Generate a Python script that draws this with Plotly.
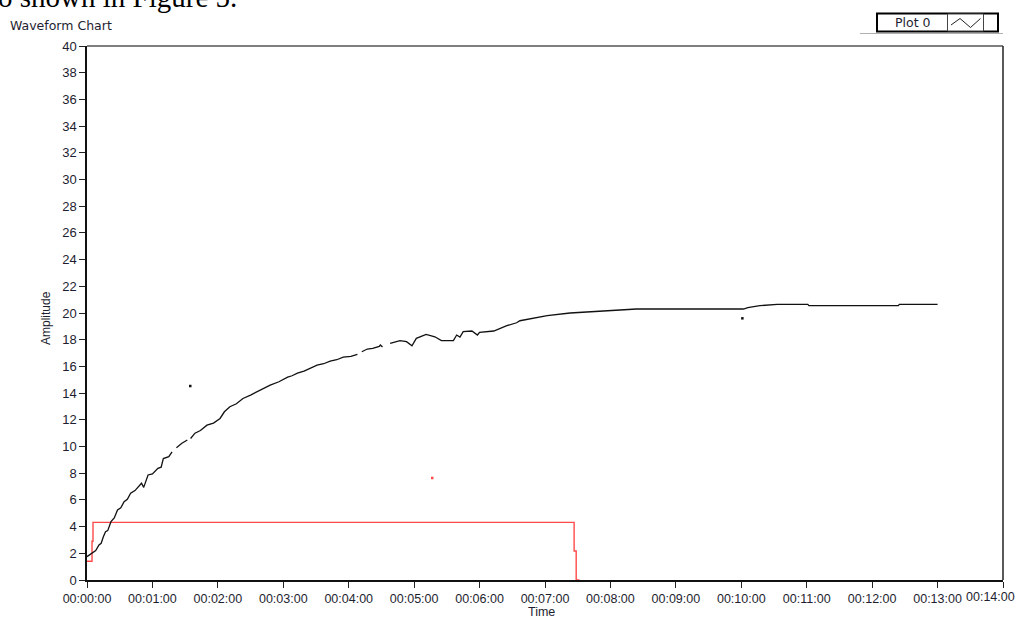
import plotly.graph_objects as go

# ---- data -------------------------------------------------------------
# Plot 0 (black trace): elapsed seconds and amplitude; None marks a dropout
plot0_seconds = [0, 4.6, 8, 11, 13, 15, 17, 19, 22, 25, 28, 31, 34, 37, 40, 44, 47, 50,
                 52, 56, 60, 65, 68, 70, 75, 78,
                 80, 82, 87, 92, 93.5, 95, 99, 104, 110, 116, 122, 126, 131, 137, 143,
                 150, 156, 162, 168, 176, 184, 188, 193, 199, 205, 211, 217, 223, 229,
                 235, 242, 248, 250, 252, 257, 262, 268, 269, 271,
                 274, 278, 287, 293, 298, 302, 311, 319, 325, 336, 339, 342, 345,
                 353, 358, 360, 373, 385, 394, 397, 412, 422, 443, 461, 480, 504,
                 602, 606, 617, 633, 661, 662, 744, 745, 780]
plot0_amplitude = [1.75, 2.05, 2.2, 2.62, 2.75, 3.24, 3.62, 3.7, 4.37, 4.65, 5.24, 5.4,
                   5.87, 6.05, 6.5, 6.7, 6.99, 7.25, 6.94, 7.87, 7.95, 8.37, 8.45, 9.1,
                   9.24, 9.6, None, 9.91, 10.24, 10.49, None, 10.6, 11.0, 11.2, 11.6,
                   11.75, 12.1, 12.6, 12.98, 13.2, 13.6, 13.85, 14.1, 14.3, 14.6, 14.85,
                   15.2, 15.3, 15.5, 15.65, 15.9, 16.1, 16.2, 16.4, 16.5, 16.7, 16.75,
                   16.9, None, 17.1, 17.3, 17.35, 17.5, 17.6, 17.45, None,
                   17.73, 17.93, 17.85, 17.55, 18.1, 18.4, 18.22, 17.93, 17.93, 18.35,
                   18.2, 18.6, 18.65, 18.35, 18.55, 18.65, 19.05, 19.27, 19.42, 19.65,
                   19.8, 20.0, 20.1, 20.2, 20.3, 20.3, 20.4, 20.55, 20.65, 20.65, 20.55,
                   20.55, 20.65, 20.65]

# isolated samples of Plot 0
plot0_single_seconds = [94.7, 601]
plot0_single_amplitude = [14.53, 19.6]

# Plot 1 (red trace)
plot1_seconds = [0, 4.6, 4.6, 5.5, 5.5, 446.7, 446.7, 448.6, 448.6, 451.6]
plot1_amplitude = [1.4, 1.4, 2.9, 2.9, 4.32, 4.32, 2.17, 2.17, 0, 0]

plot1_single_seconds = [316.6]
plot1_single_amplitude = [7.64]

# time axis ticks
time_tick_seconds = [0, 60, 120, 180, 240, 300, 360, 420, 480, 540, 600, 660, 720, 780, 840]
time_tick_labels = ["00:00:00", "00:01:00", "00:02:00", "00:03:00", "00:04:00",
                    "00:05:00", "00:06:00", "00:07:00", "00:08:00", "00:09:00",
                    "00:10:00", "00:11:00", "00:12:00", "00:13:00", "00:14:00"]

# ---- layout helpers ---------------------------------------------------
W, H = 1017, 619
L, R, T, B = 87, 1003, 46, 580          # plot area in pixels


def px(x):
    return (x - L) / (R - L)


def py(y):
    return (B - y) / (B - T)


TEXT = "#1e1e30"
Y_TICK_FONT = dict(family="Liberation Sans", size=13, color=TEXT)
X_TICK_FONT = dict(family="Liberation Sans", size=12.5, color=TEXT)

# the final time label sits against the right edge, so it is placed separately
axis_tick_text = time_tick_labels[:-1] + [""]

fig = go.Figure()

fig.add_trace(go.Scatter(x=plot1_seconds, y=plot1_amplitude, mode="lines",
                         line=dict(color="#ff4a4a", width=1.4), name="Plot 1"))
fig.add_trace(go.Scatter(x=plot1_single_seconds, y=plot1_single_amplitude, mode="markers",
                         marker=dict(color="#ff4a4a", size=2.5, symbol="square"),
                         name="Plot 1"))
fig.add_trace(go.Scatter(x=plot0_seconds, y=plot0_amplitude, mode="lines",
                         line=dict(color="#111111", width=1.3), name="Plot 0"))
fig.add_trace(go.Scatter(x=plot0_single_seconds, y=plot0_single_amplitude, mode="markers",
                         marker=dict(color="#111111", size=2.5, symbol="square"),
                         name="Plot 0"))

fig.update_layout(
    width=W, height=H, autosize=False,
    margin=dict(l=L, r=W - R, t=T, b=H - B, pad=0),
    paper_bgcolor="white", plot_bgcolor="white",
    showlegend=False,
    xaxis=dict(range=[0, 840], tickmode="array", tickvals=time_tick_seconds,
               ticktext=axis_tick_text, ticks="outside", ticklen=6, tickwidth=1,
               tickcolor="#222", showgrid=False, zeroline=False, showline=True,
               linecolor="#111", linewidth=1.5, tickfont=X_TICK_FONT),
    yaxis=dict(range=[0, 40], dtick=2, ticks="outside", ticklen=6, tickwidth=1,
               tickcolor="#222", showgrid=False, zeroline=False, showline=True,
               linecolor="#111", linewidth=1.5, tickfont=Y_TICK_FONT),
)

shapes = [
    # top and right frame
    dict(type="line", xref="paper", yref="paper", x0=0, x1=1, y0=1, y1=1,
         line=dict(color="#555", width=1.5)),
    dict(type="line", xref="paper", yref="paper", x0=1, x1=1, y0=0, y1=1,
         line=dict(color="#222", width=1.5)),
    # legend panel
    dict(type="line", xref="paper", yref="paper", x0=px(860), x1=px(1003),
         y0=py(33.5), y1=py(33.5), line=dict(color="#b0b0b0", width=1)),
    dict(type="rect", xref="paper", yref="paper", x0=px(877), x1=px(998),
         y0=py(31.5), y1=py(13.5), line=dict(color="black", width=2), fillcolor="white"),
    dict(type="rect", xref="paper", yref="paper", x0=px(947.5), x1=px(983.5),
         y0=py(31), y1=py(14), line=dict(color="#444", width=1), fillcolor="white"),
    dict(type="path", xref="paper", yref="paper",
         path=(f"M {px(951)},{py(25)} L {px(960)},{py(18.5)} L {px(970.5)},{py(27.5)} "
               f"L {px(980.5)},{py(18.5)}"),
         line=dict(color="#222", width=1)),
]
fig.update_layout(shapes=shapes)

annotations = [
    dict(text="o shown in Figure 5.", xref="paper", yref="paper", x=px(-4), y=py(15),
         xanchor="left", yanchor="bottom", showarrow=False,
         font=dict(family="Liberation Serif", size=29, color="black")),
    dict(text="Waveform Chart", xref="paper", yref="paper", x=px(8), y=py(25),
         xanchor="left", yanchor="middle", showarrow=False,
         font=dict(family="DejaVu Sans", size=12.5, color=TEXT)),
    dict(text="Plot 0", xref="paper", yref="paper", x=px(913), y=py(22.5),
         xanchor="center", yanchor="middle", showarrow=False,
         font=dict(family="DejaVu Sans", size=12.5, color=TEXT)),
    dict(text="Amplitude", xref="paper", yref="paper", x=px(46), y=py(318),
         xanchor="center", yanchor="middle", textangle=-90, showarrow=False,
         font=dict(family="Liberation Sans", size=12, color=TEXT)),
    dict(text="Time", xref="paper", yref="paper", x=px(541), y=py(611.5),
         xanchor="center", yanchor="middle", showarrow=False,
         font=dict(family="Liberation Sans", size=12.5, color=TEXT)),
    dict(text=time_tick_labels[-1], xref="paper", yref="paper", x=px(W - 0.5),
         y=py(597), xanchor="right", yanchor="middle", showarrow=False,
         font=X_TICK_FONT),
]
fig.update_layout(annotations=annotations)

fig.write_html("out.html", config={"responsive": False})
